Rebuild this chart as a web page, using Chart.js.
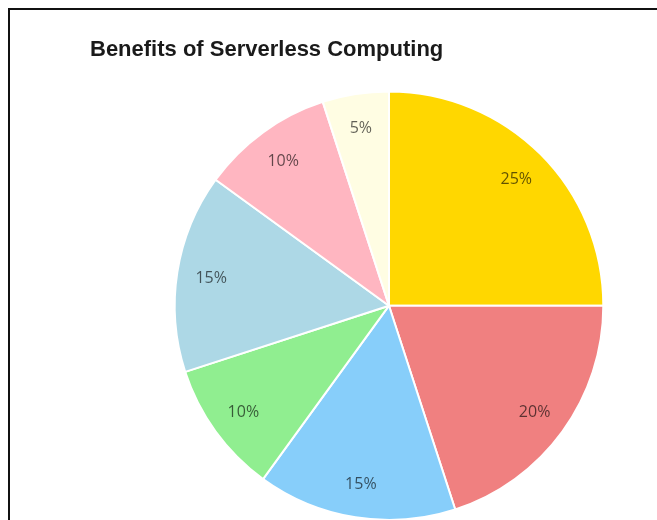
<!DOCTYPE html>
<html>
<head>
<meta charset="utf-8">
<script src="https://cdn.jsdelivr.net/npm/chart.js@4"></script>
<style>
  html, body { margin: 0; padding: 0; background: #fff; overflow: hidden; }
  #frame { position: absolute; left: 8px; top: 8px; width: 800px; height: 800px; border: 2px solid #111; }
  #wrap { position: absolute; left: 0; top: 0; }
</style>
</head>
<body>
<div id="frame"></div>
<div id="wrap"><canvas id="pieChart" width="700" height="540"></canvas></div>
<script>
const categories = [
    "Cost Efficiency",
    "Automatic Scaling",
    "Reduced Operations",
    "Faster Deployment",
    "Developer Productivity",
    "High Availability",
    "Other"
];
const shares = [25, 20, 15, 10, 15, 10, 5];
const sliceColors = ["#FFD700", "#F08080", "#87CEFA", "#90EE90", "#ADD8E6", "#FFB6C1", "#FFFDE3"];

// draws the percent text inside each slice
const percentLabels = {
    id: "percentLabels",
    afterDatasetsDraw(chart) {
        const ctx = chart.ctx;
        const meta = chart.getDatasetMeta(0);
        ctx.save();
        ctx.font = "16px 'Open Sans', sans-serif";
        ctx.fillStyle = "rgba(0, 0, 0, 0.62)";
        ctx.textAlign = "center";
        ctx.textBaseline = "middle";
        meta.data.forEach((arc, i) => {
            const mid = (arc.startAngle + arc.endAngle) / 2;
            const r = arc.outerRadius * 0.84;
            ctx.fillText(shares[i] + "%", arc.x + Math.cos(mid) * r, arc.y + Math.sin(mid) * r + 1);
        });
        ctx.restore();
    }
};

const ctx = document.getElementById("pieChart").getContext("2d");
new Chart(ctx, {
    type: "pie",
    data: {
        labels: categories,
        datasets: [{
            data: shares,
            backgroundColor: sliceColors,
            borderColor: "#fff",
            borderWidth: 2
        }]
    },
    options: {
        responsive: false,
        animation: false,
        layout: { padding: { left: 90, right: 12, top: 0, bottom: 19 } },
        plugins: {
            legend: { display: false },
            tooltip: { enabled: false },
            title: {
                display: true,
                text: "Benefits of Serverless Computing",
                align: "start",
                color: "#1a1a1a",
                font: { family: "'Liberation Sans', Arial, sans-serif", size: 22, weight: "bold", lineHeight: 1.2 },
                padding: { top: 37, bottom: 27 }
            }
        }
    },
    plugins: [percentLabels]
});
</script>
</body>
</html>
